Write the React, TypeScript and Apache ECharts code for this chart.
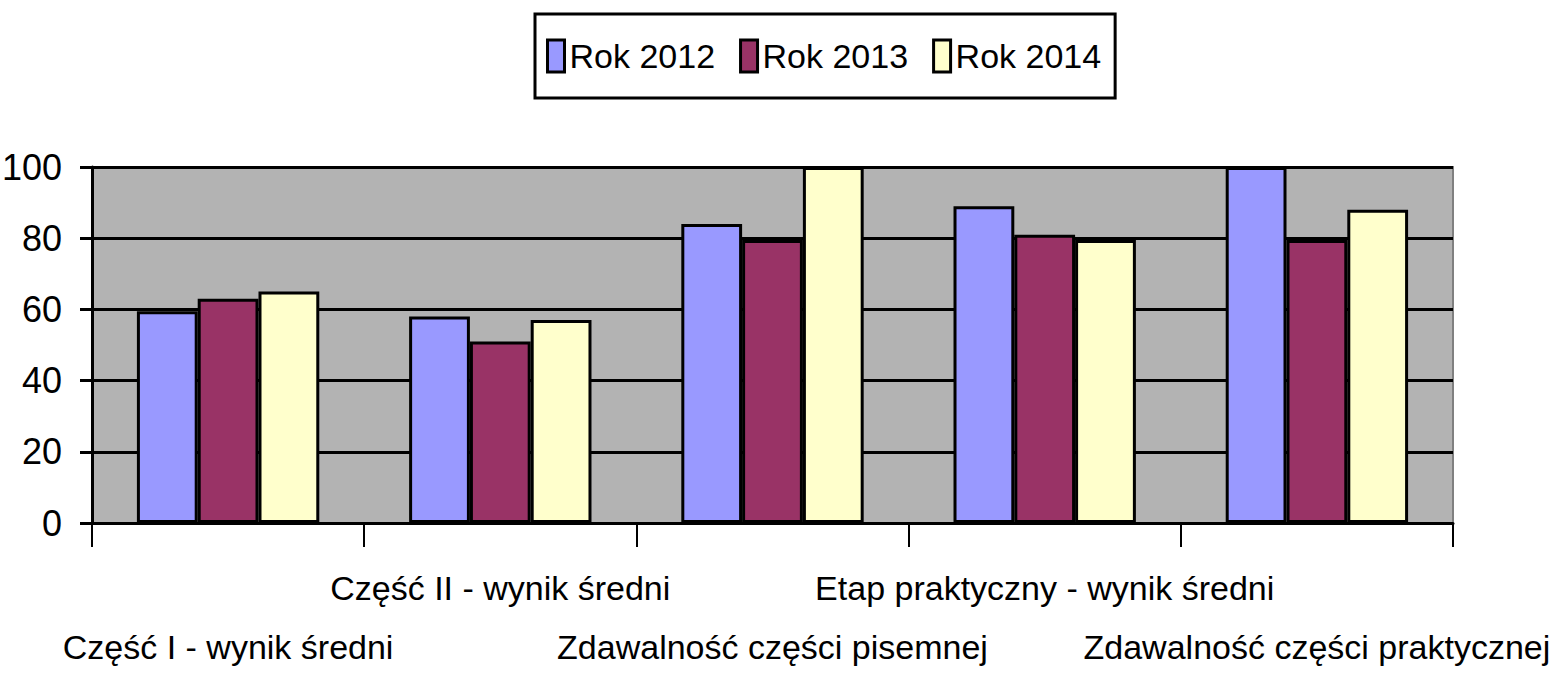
import React, { useEffect, useRef } from "react";
import * as echarts from "echarts";

const categories = [
  "Część I - wynik średni",
  "Część II - wynik średni",
  "Zdawalność części pisemnej",
  "Etap praktyczny - wynik średni",
  "Zdawalność części praktycznej",
];
const seriesNames = ["Rok 2012", "Rok 2013", "Rok 2014"];
const values2012 = [59.5, 58, 84, 89, 100];
const values2013 = [63, 51, 79.5, 81, 79.5];
const values2014 = [65, 57, 100, 79.5, 88];
const yTicks = [0, 20, 40, 60, 80, 100];
const colors = ["#9999FF", "#993366", "#FFFFCC"];

const FONT = "'Liberation Sans', Arial, sans-serif";

export default function App() {
  const ref = useRef<HTMLDivElement>(null);
  useEffect(() => {
    if (!ref.current) return;
    const chart = echarts.init(ref.current, undefined, { renderer: "svg" });
    const data = [values2012, values2013, values2014];
    chart.setOption({
      animation: false,
      backgroundColor: "#FFFFFF",
      legend: {
        left: 535,
        top: 14,
        orient: "horizontal",
        backgroundColor: "#FFFFFF",
        borderColor: "#000000",
        borderWidth: 3,
        borderRadius: 0,
        padding: [22, 14, 22, 11],
        itemGap: 24,
        itemWidth: 17,
        itemHeight: 32,
        icon: "rect",
        itemStyle: { borderColor: "#000000", borderWidth: 3 },
        textStyle: { fontFamily: FONT, fontSize: 34, color: "#000000", lineHeight: 40 },
        data: seriesNames,
      },
      grid: {
        left: 92,
        right: 101,
        top: 167,
        bottom: 151,
        containLabel: false,
        outerBoundsMode: "none",
        show: true,
        backgroundColor: "#B3B3B3",
        borderColor: "#808080",
        borderWidth: 2,
      },
      xAxis: {
        type: "category",
        data: categories,
        axisLine: { show: true, lineStyle: { color: "#000000", width: 3 } },
        axisTick: { show: true, length: 24, lineStyle: { color: "#000000", width: 2 } },
        axisLabel: {
          interval: 0,
          hideOverlap: false,
          margin: 35,
          fontFamily: FONT,
          fontSize: 34,
          lineHeight: 59,
          color: "#000000",
          formatter: (v: string, i: number) => (i % 2 === 0 ? "\n" + v : v),
        },
        splitLine: { show: false },
      },
      yAxis: {
        type: "value",
        min: yTicks[0],
        max: yTicks[yTicks.length - 1],
        interval: yTicks[1] - yTicks[0],
        axisLine: { show: true, lineStyle: { color: "#000000", width: 3 } },
        axisTick: { show: true, length: 12, lineStyle: { color: "#000000", width: 3 } },
        axisLabel: {
          margin: 30,
          fontFamily: FONT,
          fontSize: 36,
          color: "#000000",
        },
        splitLine: { show: true, lineStyle: { color: "#000000", width: 3 } },
      },
      series: seriesNames.map((name, i) => ({
        name,
        type: "bar",
        data: data[i],
        barGap: "0%",
        barCategoryGap: "33%",
        itemStyle: { color: colors[i], borderColor: "#000000", borderWidth: 3 },
      })),
    });
    return () => chart.dispose();
  }, []);
  return (
    <div
      ref={ref}
      style={{ position: "fixed", left: 0, top: 0, width: 1554, height: 674 }}
    />
  );
}
